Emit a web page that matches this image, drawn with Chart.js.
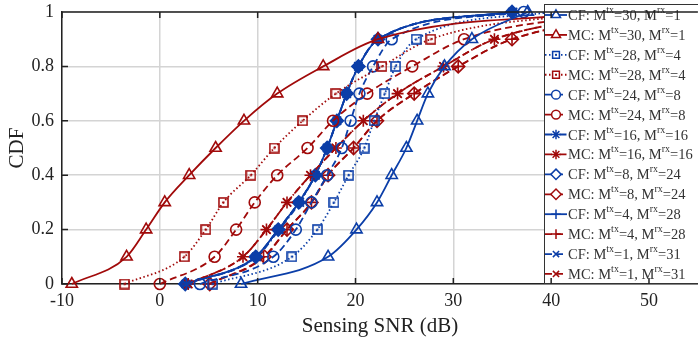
<!DOCTYPE html>
<html>
<head>
<meta charset="utf-8">
<script src="https://cdn.jsdelivr.net/npm/chart.js@4.4.1/dist/chart.umd.min.js"></script>
<style>
html, body { margin: 0; padding: 0; background: #fff; overflow: hidden; }
</style>
</head>
<body>
<canvas id="myChart" width="706" height="341"></canvas>
<script>
// CDF levels where markers sit
const cdfLevels = [0, 0.1, 0.2, 0.3, 0.4, 0.5, 0.6, 0.7, 0.8, 0.9, 1.0];

// sensing SNR (dB) at each level
const cf_30_1  = [8.3, 17.2, 20.1, 22.2, 23.7, 25.2, 26.3, 27.4, 29.1, 31.9, 37.6];
const mc_30_1  = [-9.0, -3.4, -1.4, 0.5, 3.0, 5.7, 8.6, 12.0, 16.7, 22.3, 46.0];
const cf_28_4  = [5.4, 13.5, 16.1, 17.8, 19.3, 20.9, 21.9, 23.0, 24.1, 26.2, 40.0];
const mc_28_4  = [-3.6, 2.5, 4.7, 6.5, 9.3, 11.7, 14.6, 18.0, 22.7, 27.7, 45.0];
const cf_24_8  = [4.1, 11.6, 13.9, 15.5, 17.1, 18.6, 19.5, 20.4, 21.8, 23.7, 37.2];
const mc_24_8  = [0.0, 5.6, 7.8, 9.7, 12.0, 15.1, 17.7, 21.2, 25.8, 31.1, 47.0];
const cf_16_16 = [2.7, 9.9, 12.2, 14.3, 15.9, 17.1, 18.1, 19.1, 20.3, 22.3, 36.1];
const mc_16_16 = [2.9, 8.5, 10.9, 13.0, 15.4, 18.0, 20.8, 24.3, 29.0, 34.2, 49.0];
const cf_8_24  = [2.6, 9.8, 12.1, 14.2, 15.9, 17.1, 18.1, 19.1, 20.3, 22.3, 36.0];
const mc_8_24  = [5.1, 10.7, 13.0, 15.5, 17.2, 19.8, 22.2, 26.0, 30.5, 36.0, 52.0];
const cf_4_28  = [2.6, 9.8, 12.1, 14.2, 15.9, 17.1, 18.1, 19.1, 20.3, 22.3, 36.0];
const mc_4_28  = [5.0, 10.6, 13.0, 15.5, 17.2, 19.8, 22.2, 26.0, 30.5, 36.0, 52.0];
const cf_1_31  = [2.6, 9.8, 12.1, 14.2, 15.9, 17.1, 18.1, 19.1, 20.3, 22.3, 36.0];
const mc_1_31  = [2.9, 8.5, 10.9, 13.0, 15.4, 18.0, 20.8, 24.3, 29.0, 34.2, 49.0];

const xTicks = [-10, 0, 10, 20, 30, 40, 50];
const yTicks = [0, 0.2, 0.4, 0.6, 0.8, 1];

const BLUE = '#0b3ea8';
const RED = '#a10a0a';
const SERIF = '"Liberation Serif", "Times New Roman", serif';

const solid = [], dotted = [1.5, 2.5], dashed = [7, 4], dashdot = [7, 3, 1.5, 3];

// square marker with a dot in the middle
function dotSquare(color, size) {
	const c = document.createElement('canvas');
	c.width = size; c.height = size;
	const g = c.getContext('2d');
	g.strokeStyle = color;
	g.lineWidth = 1.6;
	g.strokeRect(1, 1, size - 2, size - 2);
	g.fillStyle = color;
	g.fillRect(size / 2 - 1, size / 2 - 1, 2, 2);
	return c;
}

function series(vals, sys, tx, rx, color, dash, marker, r, fill) {
	return {
		sys: sys, tx: tx, rx: rx,
		data: vals.map((v, i) => ({ x: v, y: cdfLevels[i] })),
		borderColor: color,
		borderDash: dash,
		pointStyle: marker,
		pointRadius: r,
		pointBorderColor: color,
		pointBackgroundColor: fill || 'rgba(0,0,0,0)',
		clip: false
	};
}

const datasets = [
	series(cf_30_1, 'CF', 30, 1, BLUE, solid, 'triangle', 6.5),
	series(mc_30_1, 'MC', 30, 1, RED, solid, 'triangle', 6.5),
	series(cf_28_4, 'CF', 28, 4, BLUE, dotted, dotSquare(BLUE, 11), 6),
	series(mc_28_4, 'MC', 28, 4, RED, dotted, dotSquare(RED, 11), 6),
	series(cf_24_8, 'CF', 24, 8, BLUE, dashed, 'circle', 5.5),
	series(mc_24_8, 'MC', 24, 8, RED, dashed, 'circle', 5.5),
	series(cf_16_16, 'CF', 16, 16, BLUE, dashdot, 'star', 6),
	series(mc_16_16, 'MC', 16, 16, RED, dashdot, 'star', 6),
	series(cf_8_24, 'CF', 8, 24, BLUE, dashed, 'rectRot', 6.5, BLUE),
	series(mc_8_24, 'MC', 8, 24, RED, dashed, 'rectRot', 6.5),
	series(cf_4_28, 'CF', 4, 28, BLUE, solid, 'cross', 6),
	series(mc_4_28, 'MC', 4, 28, RED, dashed, 'cross', 6),
	series(cf_1_31, 'CF', 1, 31, BLUE, dashed, 'crossRot', 5.5),
	series(mc_1_31, 'MC', 1, 31, RED, dashed, 'crossRot', 5.5)
];

// inward tick marks + top border
const frameTicks = {
	id: 'frameTicks',
	afterDraw(chart) {
		const ctx = chart.ctx;
		const a = chart.chartArea;
		const xs = chart.scales.x, ys = chart.scales.y;
		ctx.save();
		ctx.strokeStyle = '#222';
		ctx.lineWidth = 1.5;
		ctx.beginPath();
		ctx.moveTo(a.left, a.top);
		ctx.lineTo(a.right, a.top);
		xTicks.forEach(v => {
			const px = xs.getPixelForValue(v);
			ctx.moveTo(px, a.bottom); ctx.lineTo(px, a.bottom - 6);
			ctx.moveTo(px, a.top); ctx.lineTo(px, a.top + 6);
		});
		yTicks.forEach(v => {
			const py = ys.getPixelForValue(v);
			ctx.moveTo(a.left, py); ctx.lineTo(a.left + 6, py);
		});
		ctx.stroke();
		ctx.restore();
	}
};

// boxed legend with superscripts
const boxLegend = {
	id: 'boxLegend',
	afterDatasetsDraw(chart) {
		const ctx = chart.ctx;
		const x0 = 544.5, y0 = 4.5, w = 170, h = 279;
		ctx.save();
		ctx.fillStyle = '#fff';
		ctx.fillRect(x0, y0, w, h);
		ctx.strokeStyle = '#333';
		ctx.lineWidth = 1;
		ctx.strokeRect(x0, y0, w, h);
		ctx.textBaseline = 'alphabetic';
		chart.data.datasets.forEach((ds, i) => {
			const y = 15 + i * 19.92;
			ctx.strokeStyle = ds.borderColor;
			ctx.lineWidth = 1.8;
			ctx.setLineDash(ds.borderDash);
			ctx.beginPath();
			ctx.moveTo(545, y);
			ctx.lineTo(567, y);
			ctx.stroke();
			ctx.setLineDash([]);
			ctx.fillStyle = '#fff';
			ctx.strokeStyle = ds.borderColor;
			ctx.lineWidth = 1.5;
			const st = typeof ds.pointStyle === 'string' ? ds.pointStyle : 'rect';
			Chart.helpers.drawPoint(ctx, {
				pointStyle: st, radius: ds.pointRadius * 0.8, rotation: 0, borderWidth: 1.5
			}, 556, y);
			if (st === 'rect' && typeof ds.pointStyle !== 'string') {
				ctx.fillStyle = ds.borderColor;
				ctx.fillRect(555, y - 1, 2, 2);
			}
			ctx.fillStyle = '#333';
			let tx = 568;
			const base = y + 5;
			const parts = [
				[ds.sys + ': M', 14.5, 0], ['tx', 10, -7], ['=' + ds.tx + ', M', 14.5, 0], ['rx', 10, -7], ['=' + ds.rx, 14.5, 0]
			];
			parts.forEach(p => {
				ctx.font = p[1] + 'px ' + SERIF;
				ctx.fillText(p[0], tx, base + p[2]);
				tx += ctx.measureText(p[0]).width;
			});
		});
		ctx.restore();
	}
};

const config = {
	type: 'line',
	data: { datasets: datasets },
	options: {
		responsive: false,
		animation: false,
		layout: { padding: { left: 0, right: 2, top: 12, bottom: 0 } },
		elements: {
			line: { cubicInterpolationMode: 'monotone', borderWidth: 1.8 },
			point: { borderWidth: 1.6 }
		},
		plugins: { legend: { display: false }, tooltip: { enabled: false } },
		scales: {
			x: {
				type: 'linear', min: -10, max: 55,
				afterBuildTicks: s => { s.ticks = xTicks.map(v => ({ value: v })); },
				afterFit: s => { s.height = 57; },
				ticks: { color: '#222', padding: 0, font: { family: SERIF, size: 18 } },
				grid: { color: '#d4d4d4', lineWidth: 1.5, drawTicks: true, tickLength: 6, tickColor: 'rgba(0,0,0,0)' },
				border: { color: '#222', width: 1.5 },
				title: { display: true, text: 'Sensing SNR (dB)', color: '#222', font: { family: SERIF, size: 21 }, padding: { top: 0, bottom: 2 } }
			},
			y: {
				min: 0, max: 1,
				afterBuildTicks: s => { s.ticks = yTicks.map(v => ({ value: v })); },
				afterFit: s => { s.width = 62; },
				ticks: { color: '#222', padding: 0, font: { family: SERIF, size: 18 }, callback: v => String(+v.toFixed(1)) },
				grid: { color: '#d4d4d4', lineWidth: 1.5, drawTicks: true, tickLength: 8, tickColor: 'rgba(0,0,0,0)' },
				border: { color: '#222', width: 1.5 },
				title: { display: true, text: 'CDF', color: '#222', font: { family: SERIF, size: 21 }, padding: { top: 5, bottom: 0 } }
			}
		}
	},
	plugins: [frameTicks, boxLegend]
};

const myChart = new Chart(document.getElementById('myChart').getContext('2d'), config);
</script>
</body>
</html>
